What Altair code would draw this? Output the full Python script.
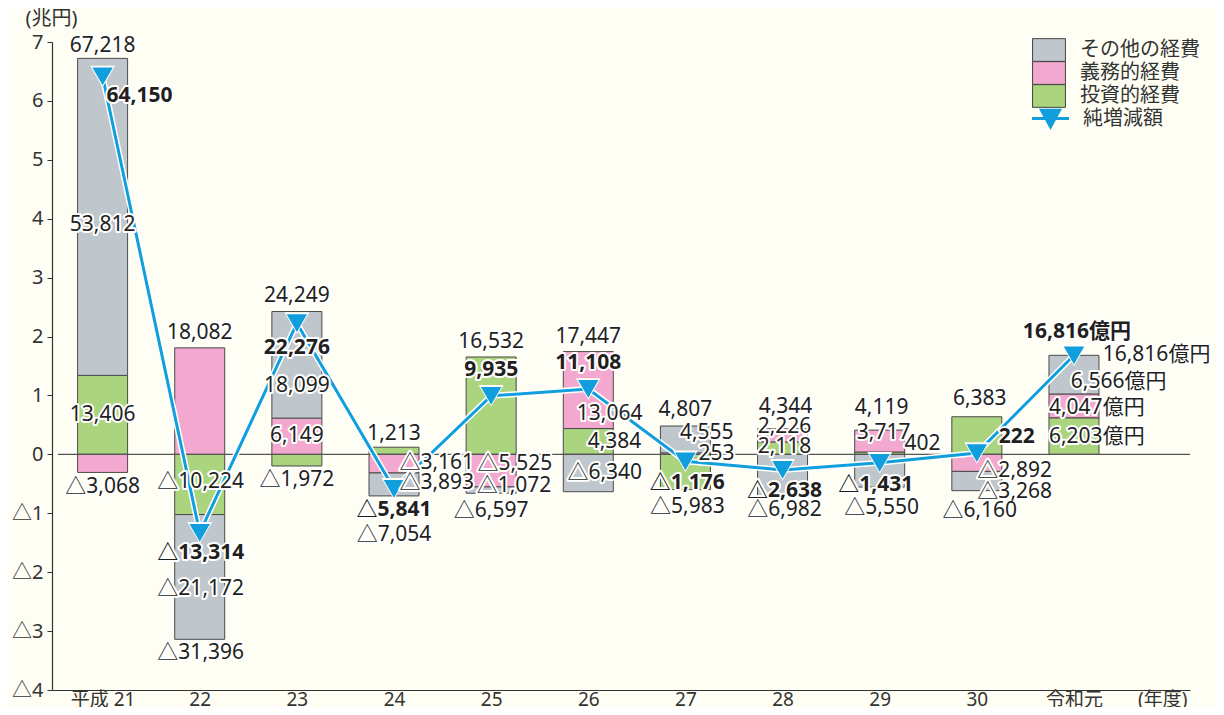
import altair as alt
import pandas as pd

# ---------------- data (億円) ----------------
years = ["平成21", "22", "23", "24", "25", "26", "27", "28", "29", "30", "令和元"]
tick_labels = ["平成 21", "22", "23", "24", "25", "26", "27", "28", "29", "30", "令和元", "(年度)"]
series = ["その他の経費", "義務的経費", "投資的経費"]
net_name = "純増減額"

investment = [13406, -10224, -1972, 1213, 16532, 4384, -5983, 2118, 402, 6383, 6203]
mandatory = [-3068, 18082, 6149, -3161, -5525, 13064, 253, 2226, 3717, -2892, 4047]
other = [53812, -21172, 18099, -3893, -1072, -6340, 4555, -6982, -5550, -3268, 6566]
net = [64150, -13314, 22276, -5841, 9935, 11108, -1176, -2638, -1431, 222, 16816]

# label texts as printed on the chart (year index, text, bold)
label_texts = [
    (0, "67,218", 0), (0, "64,150", 1), (0, "53,812", 0), (0, "13,406", 0), (0, "△3,068", 0),
    (1, "18,082", 0), (1, "△10,224", 0), (1, "△13,314", 1), (1, "△21,172", 0), (1, "△31,396", 0),
    (2, "24,249", 0), (2, "22,276", 1), (2, "18,099", 0), (2, "6,149", 0), (2, "△1,972", 0),
    (3, "1,213", 0), (3, "△3,161", 0), (3, "△3,893", 0), (3, "△5,841", 1), (3, "△7,054", 0),
    (4, "16,532", 0), (4, "9,935", 1), (4, "△5,525", 0), (4, "△1,072", 0), (4, "△6,597", 0),
    (5, "17,447", 0), (5, "11,108", 1), (5, "13,064", 0), (5, "4,384", 0), (5, "△6,340", 0),
    (6, "4,807", 0), (6, "4,555", 0), (6, "253", 0), (6, "△1,176", 1), (6, "△5,983", 0),
    (7, "4,344", 0), (7, "2,226", 0), (7, "2,118", 0), (7, "△2,638", 1), (7, "△6,982", 0),
    (8, "4,119", 0), (8, "3,717", 0), (8, "402", 0), (8, "△1,431", 1), (8, "△5,550", 0),
    (9, "6,383", 0), (9, "222", 1), (9, "△2,892", 0), (9, "△3,268", 0), (9, "△6,160", 0),
    (10, "16,816億円", 1), (10, "16,816億円", 0), (10, "6,566億円", 0), (10, "4,047億円", 0), (10, "6,203億円", 0),
]

# label layout: (y in 兆円, horizontal shift in category widths), same order as label_texts
label_layout = [
    (6.93, 0.0), (6.08, 0.38), (3.90, 0.0), (0.67, 0.0), (-0.55, 0.0),
    (2.06, 0.0), (-0.47, 0.01), (-1.68, 0.01), (-2.29, 0.01), (-3.38, 0.01),
    (2.69, 0.0), (1.81, 0.0), (1.16, 0.0), (0.31, 0.0), (-0.43, 0.0),
    (0.35, 0.0), (-0.15, 0.44), (-0.49, 0.44), (-0.95, 0.0), (-1.37, 0.0),
    (1.91, 0.0), (1.43, 0.0), (-0.16, 0.245), (-0.54, 0.235), (-0.96, 0.0),
    (2.00, 0.0), (1.55, 0.0), (0.69, 0.22), (0.21, 0.27), (-0.31, 0.17),
    (0.75, 0.0), (0.36, 0.22), (0.00, 0.32), (-0.49, 0.02), (-0.89, 0.02),
    (0.80, 0.03), (0.46, 0.02), (0.13, 0.02), (-0.62, 0.02), (-0.95, 0.02),
    (0.79, 0.02), (0.36, 0.04), (0.18, 0.44), (-0.52, -0.04), (-0.91, 0.02),
    (0.94, 0.03), (0.30, 0.41), (-0.28, 0.39), (-0.64, 0.39), (-0.96, 0.03),
    (2.08, 0.03), (1.69, 0.85), (1.23, 0.46), (0.79, 0.235), (0.30, 0.235),
]

# ---------------- tables ----------------
rows = []
for i, y in enumerate(years):
    for name, arr, o in [("投資的経費", investment, 0), ("義務的経費", mandatory, 1), ("その他の経費", other, 2)]:
        rows.append({"i": i, "year": y, "type": name, "v": arr[i] / 10000, "ord": o})
bars_df = pd.DataFrame(rows)

net_df = pd.DataFrame({"i": list(range(len(years))), "year": years,
                       "v": [n / 10000 for n in net], "name": net_name})

lab_df = pd.DataFrame([
    {"x": t[0] + l[1], "y": l[0], "text": t[1], "bold": t[2]}
    for t, l in zip(label_texts, label_layout)
])

# ---------------- style ----------------
FONT = "Noto Sans, Noto Sans CJK JP"
GRAY, PINK, GREEN, BLUE = "#bfc6cc", "#f3a9cf", "#abd47e", "#109fdc"
TXT = "#231f20"
BG = "#fefef4"

xs = alt.Scale(domain=[-0.4694, 11.143], nice=False, zero=False)
ys = alt.Scale(domain=[-4, 7], nice=False, zero=False)

x_axis = alt.Axis(
    values=list(range(11)) + [10.908],
    labelExpr="['平成 21','22','23','24','25','26','27','28','29','30','令和元','(年度)'][round(datum.value)]",
    title=None, grid=False, ticks=False, labelPadding=15, labelBaseline="alphabetic",
    labelFont=FONT, labelFontSize=19,
    labelColor="#333", domainColor="#333", domainWidth=1.2, labelFlush=False, labelOverlap=False,
    labelAngle=0,
)
y_axis = alt.Axis(
    values=list(range(-4, 8)),
    labelExpr="datum.value < 0 ? '△' + (-datum.value) : '' + datum.value",
    title="(兆円)", titleAngle=0, titleX=-1, titleY=-24, titleAlign="center", titleBaseline="middle",
    titleFont=FONT, titleFontSize=20, titleFontWeight="normal", titleColor="#333",
    grid=False, tickSize=5, tickColor="#333", domainColor="#333", domainWidth=1.2,
    labelFont=FONT, labelFontSize=20, labelColor="#333", labelPadding=4, labelFlush=False,
)

bars = alt.Chart(bars_df).mark_bar(size=50, stroke="#4a4a4a", strokeWidth=1).encode(
    x=alt.X("i:Q", scale=xs, axis=x_axis),
    y=alt.Y("v:Q", stack="zero", scale=ys, axis=y_axis),
    color=alt.Color(
        "type:N",
        scale=alt.Scale(domain=series, range=[GRAY, PINK, GREEN]),
        legend=alt.Legend(
            title=None, orient="none", legendX=985, legendY=-4,
            symbolType="M-1.45,-1H1.45V1H-1.45Z", symbolSize=515,
            symbolStrokeColor="#444", symbolStrokeWidth=1, symbolOpacity=1,
            labelFont=FONT, labelFontSize=20, labelColor="#333", labelOffset=19,
            rowPadding=-5, padding=0, gridAlign="none",
        ),
    ),
    order=alt.Order("ord:Q"),
)

zero = alt.Chart(pd.DataFrame({"z": [0]})).mark_rule(color="#555", strokeWidth=1.2).encode(
    y=alt.Y("z:Q", scale=ys, axis=y_axis), x=alt.value(6), x2=alt.value(1138)
)

line_halo = alt.Chart(net_df).mark_line(color="white", strokeWidth=6).encode(
    x=alt.X("i:Q", scale=xs, axis=x_axis), y=alt.Y("v:Q", scale=ys, axis=y_axis)
)
line = alt.Chart(net_df).mark_line(color=BLUE, strokeWidth=3).encode(
    x=alt.X("i:Q", scale=xs, axis=x_axis), y=alt.Y("v:Q", scale=ys, axis=y_axis)
)
pts_halo = alt.Chart(net_df).mark_point(shape="triangle-down", filled=True, size=620, color="white", opacity=1).encode(
    x=alt.X("i:Q", scale=xs, axis=x_axis), y=alt.Y("v:Q", scale=ys, axis=y_axis)
)
pts = alt.Chart(net_df).mark_point(shape="triangle-down", filled=True, size=420, opacity=1).encode(
    x=alt.X("i:Q", scale=xs, axis=x_axis),
    y=alt.Y("v:Q", scale=ys, axis=y_axis),
    fill=alt.Fill(
        "name:N",
        scale=alt.Scale(domain=[net_name], range=[BLUE]),
        legend=alt.Legend(
            title=None, orient="none", legendX=985, legendY=63,
            symbolType="M-1.6,0H1.6M-0.78,-0.72L0.78,-0.72L0,0.72Z", symbolSize=534,
            symbolFillColor=BLUE, symbolStrokeColor=BLUE, symbolStrokeWidth=3, symbolOpacity=1,
            labelFont=FONT, labelFontSize=20, labelColor="#333", labelOffset=19, padding=0,
        ),
    ),
)

def text_layer(bold, halo):
    props = dict(font=FONT, fontSize=21, fontWeight="bold" if bold else "normal",
                 align="center", baseline="middle")
    if halo:
        props.update(fill="white", stroke="white", strokeWidth=4, strokeJoin="round")
    else:
        props.update(fill=TXT)
    return alt.Chart(lab_df).transform_filter(
        f"datum.bold == {1 if bold else 0}"
    ).mark_text(**props).encode(
        x=alt.X("x:Q", scale=xs, axis=x_axis),
        y=alt.Y("y:Q", scale=ys, axis=y_axis),
        text="text:N",
    )

chart = alt.layer(
    bars, zero, line_halo, line, pts_halo, pts,
    text_layer(False, True), text_layer(True, True),
    text_layer(False, False), text_layer(True, False),
).properties(
    width=1138, height=648,
    autosize=alt.AutoSizeParams(type="none"),
    padding={"left": 44, "top": 34, "right": 26, "bottom": 17},
    background=BG,
).configure_view(stroke=None)

chart.save("out.html", embed_options={"renderer": "svg", "actions": False})
